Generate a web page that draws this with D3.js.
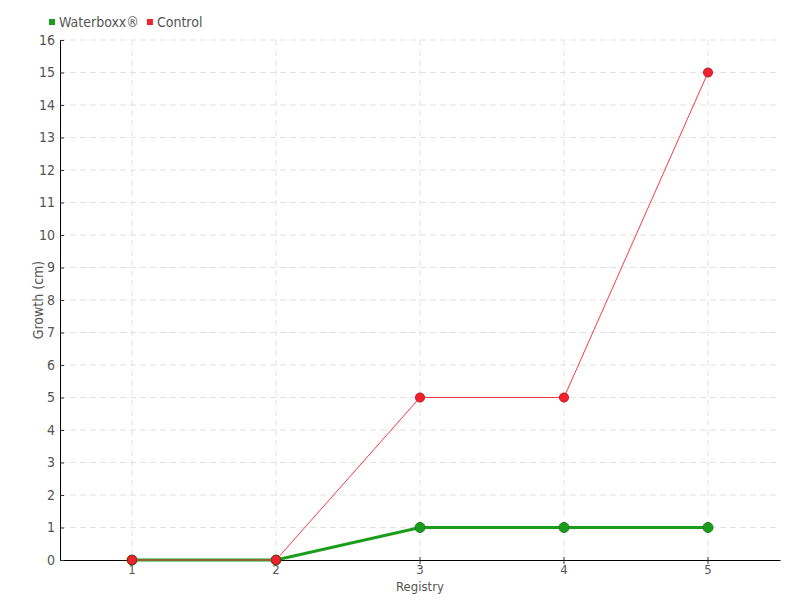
<!DOCTYPE html>
<html>
<head>
<meta charset="utf-8">
<script src="https://cdn.jsdelivr.net/npm/d3@7"></script>
<style>
  body { margin: 0; background: #fff; }
  text { font-family: "DejaVu Sans Condensed", "Liberation Sans Narrow", "DejaVu Sans", sans-serif; font-stretch: condensed; fill: #555; }
</style>
</head>
<body>
<div id="graf"></div>
<script>
// datos
const registros = ["1", "2", "3", "4", "5"];
const waterboxx = [0, 0, 1, 1, 1];
const control = [0, 0, 5, 5, 15];
const yTicks = d3.range(0, 17);

const anchoTotal = 800, altoTotal = 600;
const margins = { top: 40, right: 20, bottom: 40, left: 60 };
const ancho = anchoTotal - margins.left - margins.right;
const alto = altoTotal - margins.top - margins.bottom;

const svg = d3.select("#graf").append("svg")
  .attr("width", anchoTotal).attr("height", altoTotal);
const g = svg.append("g").attr("transform", `translate(${margins.left}, ${margins.top})`);

// escaladores
const x = d3.scaleBand().domain(registros).range([0, ancho]).padding(0);
const xc = d => x(d) + x.bandwidth() / 2;
const y = d3.scaleLinear().domain([0, 16]).range([alto, 0]);

// rejilla
g.append("g").selectAll("line").data(yTicks.slice(1)).join("line")
  .attr("x1", 0).attr("x2", ancho)
  .attr("y1", d => y(d)).attr("y2", d => y(d))
  .attr("stroke", "#e2e2e2").attr("stroke-dasharray", "6,4");
g.append("g").selectAll("line").data(registros).join("line")
  .attr("x1", d => xc(d)).attr("x2", d => xc(d))
  .attr("y1", 0).attr("y2", alto)
  .attr("stroke", "#e2e2e2").attr("stroke-dasharray", "6,4");

// ejes
const xAxis = g.append("g").attr("transform", `translate(0, ${alto})`)
  .call(d3.axisBottom(x).tickSizeInner(4).tickSizeOuter(0).tickPadding(1));
xAxis.selectAll(".tick line").attr("y1", -3).attr("y2", 4).attr("stroke", "#333");
xAxis.select(".domain").attr("stroke", "#000");
xAxis.selectAll("text").attr("font-size", 13).attr("fill", "#555");

const yAxis = g.append("g")
  .call(d3.axisLeft(y).tickValues(yTicks).tickFormat(d3.format("d")).tickSize(0).tickPadding(5).tickSizeOuter(0));
yAxis.selectAll(".tick line").attr("x1", 0).attr("x2", 4).attr("stroke", "#333");
yAxis.select(".domain").attr("stroke", "#000");
yAxis.selectAll("text").attr("font-size", 14).attr("fill", "#555");

// series
const series = [
  { nombre: "Waterboxx®", valores: waterboxx, color: "#1c9c1c", linea: "#1c9c1c", borde: "#1a7a1a", ancho: 3, r: 5 },
  { nombre: "Control", valores: control, color: "#f0222e", linea: "#f43a4a", borde: "#c01018", ancho: 1, r: 4.5 }
];

const linea = d3.line().x(d => xc(d.k)).y(d => y(d.v));
series.forEach(s => {
  const pts = registros.map((k, i) => ({ k, v: s.valores[i] }));
  g.append("path").datum(pts)
    .attr("d", linea).attr("fill", "none")
    .attr("stroke", s.linea).attr("stroke-width", s.ancho);
  g.append("g").selectAll("circle").data(pts).join("circle")
    .attr("cx", d => xc(d.k)).attr("cy", d => y(d.v)).attr("r", s.r)
    .attr("fill", s.color).attr("stroke", s.borde).attr("stroke-width", 1);
});

// títulos
svg.append("text").attr("x", margins.left + ancho / 2).attr("y", 591)
  .attr("text-anchor", "middle").attr("font-size", 13).text("Registry");
svg.append("text").attr("transform", `translate(43, ${margins.top + alto / 2}) rotate(-90)`)
  .attr("text-anchor", "middle").attr("font-size", 14).text("Growth (cm)");

// leyenda
const leyenda = svg.append("g").attr("transform", "translate(49, 22)");
let lx = 0;
series.forEach(s => {
  const item = leyenda.append("g").attr("transform", `translate(${lx}, 0)`);
  item.append("rect").attr("x", 0).attr("y", -3).attr("width", 6).attr("height", 6).attr("fill", s.color);
  const t = item.append("text").attr("x", 10).attr("y", 5).attr("font-size", 14).text(s.nombre);
  lx += 10 + t.node().getComputedTextLength() + 8;
});
</script>
</body>
</html>
